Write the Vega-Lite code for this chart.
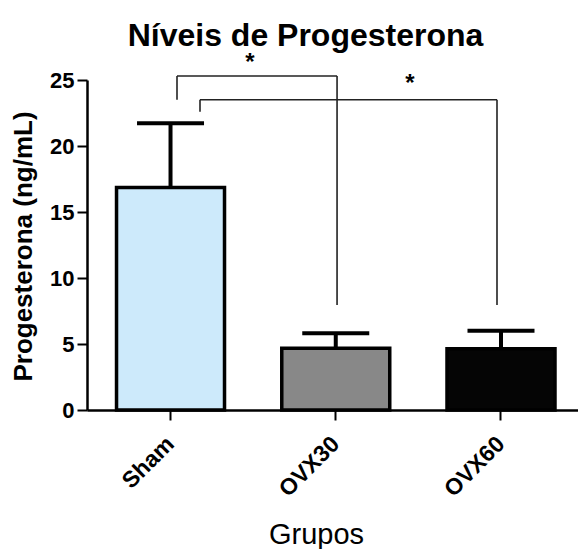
{
  "$schema": "https://vega.github.io/schema/vega-lite/v6.json",
  "autosize": {"type": "none"},
  "padding": {"left": 87, "top": 80, "right": 0, "bottom": 139},
  "width": 491,
  "height": 330,
  "background": "white",
  "config": {
    "view": {"stroke": null},
    "font": "Liberation Sans"
  },
  "title": {
    "text": "Níveis de Progesterona",
    "font": "Liberation Sans",
    "fontSize": 32,
    "fontWeight": "bold",
    "color": "black",
    "anchor": "middle",
    "frame": "group",
    "baseline": "alphabetic",
    "offset": 6,
    "dy": 33,
    "dx": -27
  },
  "datasets": {
    "grupos": [
      {"grupo": "Sham", "media": 16.85, "superior": 21.72},
      {"grupo": "OVX30", "media": 4.67, "superior": 5.81},
      {"grupo": "OVX60", "media": 4.64, "superior": 6.0}
    ],
    "comparacoes": [
      {"id": 1, "de": "Sham", "ate": "OVX30", "topo": 25.3, "pe_de": 23.5, "pe_ate": 7.95, "sig": "*", "y_sig": 25.75},
      {"id": 2, "de": "Sham", "ate": "OVX60", "topo": 23.5, "pe_de": 22.6, "pe_ate": 7.95, "sig": "*", "y_sig": 24.2}
    ]
  },
  "encoding": {
    "x": {
      "field": "grupo",
      "type": "nominal",
      "sort": ["Sham", "OVX30", "OVX60"],
      "scale": {"domain": ["Sham", "OVX30", "OVX60"], "paddingInner": 0.3465, "paddingOuter": 0.159, "align": 0.562, "round": false},
      "axis": {
        "title": "Grupos",
        "titleFont": "Liberation Sans",
        "titleFontSize": 29,
        "titleFontWeight": "normal",
        "titleColor": "black",
        "titleBaseline": "alphabetic",
        "titleX": 229,
        "titleY": 133,
        "labelAngle": -45,
        "labelAlign": "right",
        "labelBaseline": "middle",
        "labelFont": "Liberation Sans",
        "labelFontSize": 23,
        "labelFontWeight": "bold",
        "labelColor": "black",
        "labelPadding": 20,
        "domainColor": "black",
        "domainWidth": 2.5,
        "tickColor": "black",
        "tickWidth": 2,
        "tickSize": 10,
        "grid": false
      }
    }
  },
  "layer": [
    {
      "data": {"name": "grupos"},
      "mark": {"type": "bar", "stroke": "black", "strokeWidth": 3.5, "strokeJoin": "miter"},
      "encoding": {
        "y": {
          "field": "media",
          "type": "quantitative",
          "scale": {"domain": [0, 25], "nice": false},
          "axis": {
            "title": "Progesterona (ng/mL)",
            "titleFont": "Liberation Sans",
            "titleFontSize": 26,
            "titleFontWeight": "bold",
            "titleColor": "black",
            "titleAngle": -90,
            "titleBaseline": "alphabetic",
            "titleAlign": "center",
            "titleX": -56,
            "titleY": 166,
            "values": [0, 5, 10, 15, 20, 25],
            "labelFont": "Liberation Sans",
            "labelFontSize": 22,
            "labelFontWeight": "bold",
            "labelColor": "black",
            "labelPadding": 3,
            "domainColor": "black",
            "domainWidth": 2.5,
            "tickColor": "black",
            "tickWidth": 2,
            "tickSize": 10,
            "grid": false
          }
        },
        "color": {
          "field": "grupo",
          "type": "nominal",
          "scale": {"domain": ["Sham", "OVX30", "OVX60"], "range": ["#cdeafb", "#888888", "#050505"]},
          "legend": null
        }
      }
    },
    {
      "data": {"name": "grupos"},
      "mark": {"type": "rule", "color": "black", "strokeWidth": 4},
      "encoding": {
        "y": {"field": "media", "type": "quantitative"},
        "y2": {"field": "superior"}
      }
    },
    {
      "data": {"name": "grupos"},
      "mark": {"type": "tick", "color": "black", "size": 67, "thickness": 4, "opacity": 1},
      "encoding": {
        "y": {"field": "superior", "type": "quantitative"}
      }
    },
    {
      "data": {"name": "comparacoes"},
      "transform": [{"filter": "datum.id == 1"}],
      "layer": [
        {
          "mark": {"type": "rule", "color": "#222222", "strokeWidth": 1.6},
          "encoding": {
            "x": {"field": "de", "type": "nominal", "bandPosition": 0.56},
            "x2": {"field": "ate", "bandPosition": 0.512},
            "y": {"field": "topo", "type": "quantitative"}
          }
        },
        {
          "mark": {"type": "rule", "color": "#222222", "strokeWidth": 1.6},
          "encoding": {
            "x": {"field": "de", "type": "nominal", "bandPosition": 0.56},
            "y": {"field": "topo", "type": "quantitative"},
            "y2": {"field": "pe_de"}
          }
        },
        {
          "mark": {"type": "rule", "color": "#222222", "strokeWidth": 1.6},
          "encoding": {
            "x": {"field": "ate", "type": "nominal", "bandPosition": 0.512},
            "y": {"field": "topo", "type": "quantitative"},
            "y2": {"field": "pe_ate"}
          }
        },
        {
          "mark": {"type": "text", "font": "Liberation Sans", "fontSize": 24, "fontWeight": "bold", "color": "black", "baseline": "alphabetic", "align": "center"},
          "encoding": {
            "x": {"field": "ate", "type": "nominal", "bandPosition": -0.294},
            "y": {"field": "y_sig", "type": "quantitative"},
            "text": {"field": "sig"}
          }
        }
      ]
    },
    {
      "data": {"name": "comparacoes"},
      "transform": [{"filter": "datum.id == 2"}],
      "layer": [
        {
          "mark": {"type": "rule", "color": "#222222", "strokeWidth": 1.6},
          "encoding": {
            "x": {"field": "de", "type": "nominal", "bandPosition": 0.773},
            "x2": {"field": "ate", "bandPosition": 0.463},
            "y": {"field": "topo", "type": "quantitative"}
          }
        },
        {
          "mark": {"type": "rule", "color": "#222222", "strokeWidth": 1.6},
          "encoding": {
            "x": {"field": "de", "type": "nominal", "bandPosition": 0.773},
            "y": {"field": "topo", "type": "quantitative"},
            "y2": {"field": "pe_de"}
          }
        },
        {
          "mark": {"type": "rule", "color": "#222222", "strokeWidth": 1.6},
          "encoding": {
            "x": {"field": "ate", "type": "nominal", "bandPosition": 0.463},
            "y": {"field": "topo", "type": "quantitative"},
            "y2": {"field": "pe_ate"}
          }
        },
        {
          "mark": {"type": "text", "font": "Liberation Sans", "fontSize": 24, "fontWeight": "bold", "color": "black", "baseline": "alphabetic", "align": "center"},
          "encoding": {
            "x": {"field": "ate", "type": "nominal", "bandPosition": -0.343},
            "y": {"field": "y_sig", "type": "quantitative"},
            "text": {"field": "sig"}
          }
        }
      ]
    }
  ]
}
